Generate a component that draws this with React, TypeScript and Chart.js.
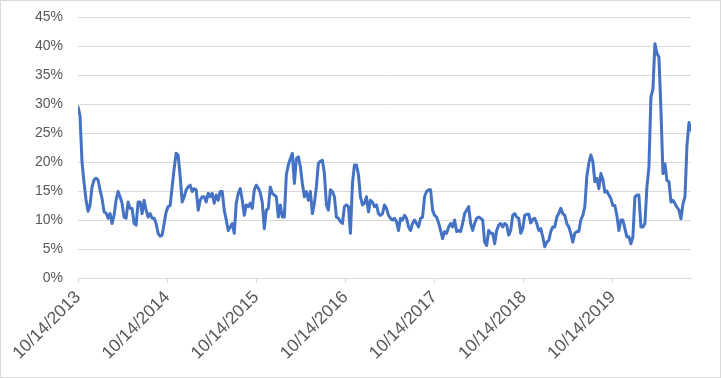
import React, { useEffect, useRef } from 'react';
import { Chart, registerables } from 'chart.js';

Chart.register(...registerables);

// Tick labels of the category (date) axis, one per year
const xTickLabels = [
  '10/14/2013',
  '10/14/2014',
  '10/14/2015',
  '10/14/2016',
  '10/14/2017',
  '10/14/2018',
  '10/14/2019',
];

// Number of samples between two yearly labels
const pointsPerYear = 44.5;

// Y-axis tick values (percent)
const yTickValues = [0, 5, 10, 15, 20, 25, 30, 35, 40, 45];

// Series values (percent), evenly spaced in time
const volatility = [
  29.5, 28, 20, 16.5, 13.5, 11.5, 12.5, 15.7, 16.9, 17.2,
  16.9, 15.2, 13.7, 11.4, 11.2, 10.3, 11.1, 9.4, 10.8, 13.4,
  14.9, 14, 12.9, 10.5, 10.3, 13.1, 12, 12, 9.4, 9.1,
  13.1, 13.1, 11.1, 13.4, 11.7, 10.5, 11.1, 10.3, 10.3, 9.4,
  7.7, 7.2, 7.4, 9.4, 11.4, 12.3, 12.5, 15.7, 18.9, 21.5,
  21.2, 17.5, 13.1, 14, 15.2, 15.7, 16, 14.9, 15.4, 15.2,
  11.7, 13.4, 14, 14, 13.1, 14.6, 14, 14.6, 12.9, 14.3,
  13.4, 14.9, 14.9, 11.7, 10, 8.2, 8.8, 9.4, 7.7, 12.9,
  14.6, 15.4, 13.4, 10.8, 12.6, 12.3, 12.9, 12, 15.2, 16,
  15.5, 14.7, 13, 8.5, 11.7, 12, 15.7, 14.6, 14.3, 14,
  10.5, 12.6, 10.5, 10.5, 17.8, 19.5, 20.6, 21.5, 16.3, 20.6,
  20.9, 19.2, 16.3, 14, 14.9, 13.4, 14.9, 11.1, 12.9, 15.7,
  19.8, 20.1, 20.3, 18, 12.6, 11.7, 15.2, 14.9, 14, 10.5,
  10.3, 9.7, 9.4, 12.3, 12.6, 12.3, 7.7, 16.3, 19.5, 19.5,
  17.8, 14, 12.6, 12.9, 14, 11.4, 13.4, 13.1, 12.3, 12.6,
  11.1, 10.8, 11.1, 12.6, 12, 10.8, 10.3, 10, 10.3, 9.7,
  8.2, 10.3, 10, 10.8, 10.3, 8.8, 8.2, 9.4, 10, 9.4,
  8.8, 10.3, 10.5, 14, 14.9, 15.2, 15.2, 11.7, 10.8, 10.5,
  9.5, 8.2, 6.8, 8, 7.7, 8.8, 9.4, 8.8, 10, 8,
  8.2, 8, 9.4, 11.1, 11.7, 12.3, 9.4, 8.2, 9.4, 10.3,
  10.5, 10.3, 10, 6.2, 5.6, 8.2, 7.7, 7.7, 5.9, 8.2,
  9.1, 9.4, 8.8, 9.4, 9.1, 7.4, 8.2, 10.8, 11.1, 10.5,
  10.3, 7.7, 8.5, 10.8, 11, 11, 9.5, 10.1, 10.3, 9.4,
  8.2, 8.5, 7.1, 5.4, 6.2, 6.5, 8, 8.8, 8.8, 10.5,
  11.1, 12, 11.1, 10.8, 9.4, 8.8, 7.7, 6.2, 7.7, 8,
  8, 10, 10.8, 12.3, 17.5, 19.8, 21.2, 20.1, 16.6, 17.2,
  15.4, 18, 17, 14.8, 15, 14.3, 13.7, 12.5, 12.5, 10.8,
  8.2, 10, 10, 8.5, 7.1, 7.1, 5.9, 7.1, 14, 14.3,
  14.3, 8.8, 8.8, 9.4, 15.7, 19.1, 31.2, 32.6, 40.4, 38.7,
  38.1, 28.9, 18, 19.7, 16.8, 16.6, 13.1, 13.4, 12.8, 12.2,
  11.7, 10.2, 12.8, 14, 22.9, 26.8, 25.5,
];

const TEXT = '#595959';
const GRID = '#d9d9d9';
const FAMILY = "'Liberation Sans', Arial, sans-serif";

export default function App() {
  const ref = useRef<HTMLCanvasElement>(null);

  useEffect(() => {
    document.body.style.margin = '0';
    const chart = new Chart(ref.current as HTMLCanvasElement, {
      type: 'line',
      data: {
        datasets: [
          {
            data: volatility.map((v, i) => ({ x: i, y: v })),
            borderColor: '#4472C4',
            borderWidth: 3,
            pointRadius: 0,
            tension: 0,
            fill: false,
            borderJoinStyle: 'round',
            borderCapStyle: 'round',
          },
        ],
      },
      options: {
        animation: false,
        responsive: false,
        maintainAspectRatio: false,
        layout: { padding: { top: 16, right: 29, left: 0, bottom: 0 } },
        plugins: { legend: { display: false }, tooltip: { enabled: false } },
        scales: {
          x: {
            type: 'linear',
            min: 0,
            max: volatility.length - 1,
            afterBuildTicks: (s: any) => {
              s.ticks = xTickLabels.map((_, k) => ({ value: k * pointsPerYear }));
            },
            afterFit: (s: any) => {
              s.height = 99;
            },
            ticks: {
              autoSkip: false,
              minRotation: 45,
              maxRotation: 45,
              padding: 4,
              color: TEXT,
              font: { family: FAMILY, size: 17.5 },
              callback: (_v: any, i: number) => xTickLabels[i],
            },
            grid: {
              display: true,
              drawOnChartArea: false,
              drawTicks: true,
              tickLength: 5,
              color: GRID,
            },
            border: { display: true, color: GRID },
          },
          y: {
            min: 0,
            max: 45,
            afterBuildTicks: (s: any) => {
              s.ticks = yTickValues.map((v) => ({ value: v }));
            },
            afterFit: (s: any) => {
              s.width = 77;
              s.paddingTop = 0;
              s.paddingBottom = 0;
            },
            ticks: {
              padding: 15,
              color: TEXT,
              font: { family: FAMILY, size: 14 },
              callback: (v: any) => v + '%',
            },
            grid: { color: GRID, drawTicks: false },
            border: { display: false },
          },
        },
      },
    } as any);
    return () => chart.destroy();
  }, []);

  return (
    <div
      style={{
        width: 721,
        height: 378,
        boxSizing: 'border-box',
        border: '1px solid ' + GRID,
        position: 'relative',
        background: '#fff',
      }}
    >
      <canvas ref={ref} width={719} height={376} style={{ display: 'block' }} />
    </div>
  );
}
